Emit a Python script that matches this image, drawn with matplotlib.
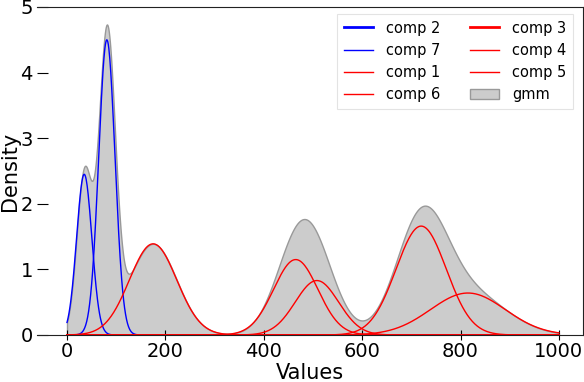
import numpy as np
import matplotlib
matplotlib.use('Agg')
from matplotlib import pyplot as plt

# gaussian components (peak height, mean, sigma)
comp_names = ['comp 2', 'comp 7', 'comp 1', 'comp 6', 'comp 3', 'comp 4', 'comp 5']
comp_colors = ['blue', 'blue', 'red', 'red', 'red', 'red', 'red']
means = [81, 35, 465, 508, 175, 720, 815]
sigmas = [16.5, 15.5, 45, 44, 48, 51, 76]
peaks = [4.5, 2.45, 1.15, 0.83, 1.39, 1.66, 0.64]

xs = np.linspace(0, 1000, 1001)
curves = [p * np.exp(-(xs - m) ** 2 / (2 * s ** 2)) for p, m, s in zip(peaks, means, sigmas)]
gmm = np.sum(curves, axis=0)

fig = plt.figure(figsize=(5.84, 3.82), dpi=100)
ax = fig.add_axes([37 / 584, 47 / 382, 546 / 584, 328 / 382])

for c, name, col in zip(curves, comp_names, comp_colors):
    ax.plot(xs, c, color=col, lw=1.0, label=name)
ax.fill_between(xs, 0, gmm, facecolor='#cccccc', edgecolor='#999999', lw=1, label='gmm')

ax.set_xlim(-61, 1049)
ax.set_ylim(0, 5)
ax.set_xticks([0, 200, 400, 600, 800, 1000])
ax.set_yticks([0, 1, 2, 3, 4, 5])
ax.spines['left'].set_visible(False)
for s in ['top', 'right', 'bottom']:
    ax.spines[s].set_color('#222222')
ax.tick_params(axis='x', direction='inout', length=6.5, labelsize=14, pad=2)
ax.tick_params(axis='y', direction='in', length=8, labelsize=14, pad=3)
ax.set_xlabel('Values', fontsize=15, labelpad=1)
ax.set_ylabel('Density', fontsize=15, labelpad=0)

leg = ax.legend(ncol=2, loc='upper right', fontsize=10.5, frameon=True, fancybox=False,
                bbox_to_anchor=(0.9895, 0.992), columnspacing=2.0, borderpad=0.45,
                handletextpad=0.9, borderaxespad=0.3)
leg.get_frame().set_edgecolor('#dddddd')
leg.get_frame().set_linewidth(0.8)
# comp 2 and comp 3 handles are drawn heavier in the original
leg.legend_handles[0].set_linewidth(2)
leg.legend_handles[4].set_linewidth(2)

fig.savefig('out.png', dpi=100)
